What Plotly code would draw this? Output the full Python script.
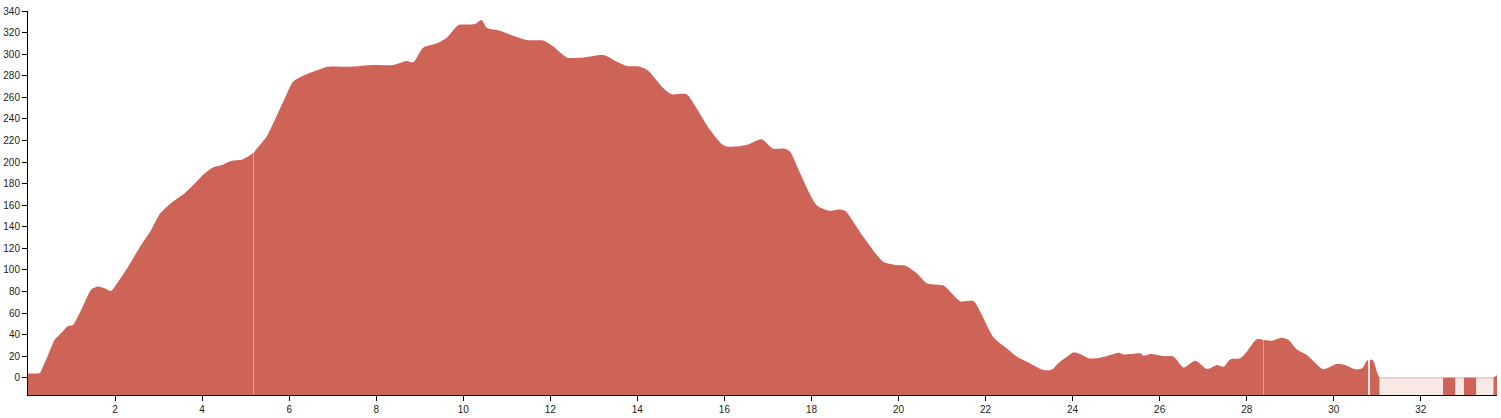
import plotly.graph_objects as go

# ---------------- data ----------------
distance_km = [
    0.00, 0.27, 0.34, 0.45, 0.61, 0.73, 0.92, 1.03, 1.15, 1.26, 1.46, 1.61, 1.76, 1.91, 2.07,
    2.30, 2.60, 2.83, 3.03, 3.29, 3.60, 3.83, 4.06, 4.25, 4.44, 4.67, 4.90, 5.06, 5.18,
    5.18, 5.28, 5.48, 5.67, 5.90, 6.09, 6.36, 6.66, 6.89, 7.40, 7.94, 8.40, 8.70, 8.85, 9.08,
    9.39, 9.62, 9.89, 10.08, 10.27, 10.42, 10.54, 10.85, 11.15, 11.46, 11.84, 12.07, 12.38,
    12.76, 13.22, 13.53, 13.76, 14.06, 14.25, 14.60, 14.79, 15.13, 15.36, 15.67, 16.01, 16.51,
    16.86, 17.12, 17.39, 17.51, 17.74, 18.12, 18.43, 18.62, 18.77, 19.19, 19.65, 19.96, 20.15,
    20.42, 20.65, 20.95, 21.04, 21.42, 21.73, 21.88, 22.19, 22.49, 22.72, 22.95, 23.33, 23.53,
    23.68, 23.87, 24.02, 24.18, 24.37, 24.64, 24.87, 25.06, 25.17, 25.56, 25.63, 25.79, 26.09,
    26.32, 26.55, 26.82, 27.09, 27.32, 27.47, 27.62, 27.85, 28.00, 28.23, 28.39,
    28.39, 28.58, 28.81, 28.96, 29.15, 29.38, 29.57, 29.76, 30.07, 30.26, 30.49, 30.65, 30.76, 30.81,
    30.81, 30.84, 30.91, 30.99, 31.05,
    32.51, 32.79,
    32.99, 33.27,
    33.67, 33.75,
]
elevation_m = [
    4, 4.5, 10, 20, 35, 40, 48, 49, 57, 66, 82, 84.5, 83, 80.5, 89,
    103, 123, 137, 152, 162, 171, 180, 189.5, 195, 197, 201, 202, 205, 208.5,
    208.5, 213.6, 223.5, 239, 259, 274.5, 280.7, 285.3, 288.4, 288.4, 290, 290, 293.6, 292.4, 306,
    310, 315.3, 327, 327.5, 328, 331.7, 324.5, 321.7, 317, 313, 312.6, 307, 297,
    297, 299.2, 293, 289, 288.4, 284.7, 268.3, 262.8, 262.8, 249.8, 229.7, 214.8, 215.8,
    221, 212.3, 212.3, 209.5, 189.5, 160, 154.8, 156, 154.8, 130.7, 107.6, 104.5, 104,
    96.8, 87.5, 86, 85.4, 71, 71, 61, 37, 27, 19.5, 14.8, 7.1, 7.7,
    13.9, 19.5, 23.5, 21.7, 18, 18.6, 21, 23.2, 21.6, 22.6, 20.4, 22, 20.1,
    19.5, 9.6, 15.8, 8.1, 11.8, 10.2, 17, 18, 24.1, 35.6, 35,
    35, 34.4, 37.1, 35, 26.3, 21, 13.9, 7.8, 12.7, 11.8, 7.8, 8.7, 15.8, 16.5,
    16.5, 17, 15.8, 5.6, 0,
    0, 0,
    0, 0,
    0, 2.5,
]
# recorded blocks inside the missing stretch start at these distances
block_starts_km = [32.51, 32.99, 33.67]
missing_range_km = [31.05, 33.75]
missing_level_m = [0, 0]

x_ticks = list(range(2, 33, 2))
y_ticks = list(range(0, 341, 20))
x_range = [0, 33.75]
y_range = [-16, 340]

FILL = "#CE6358"

# ---------------- split into segments ----------------
segments = []
for i, (x, y) in enumerate(zip(distance_km, elevation_m)):
    new = i == 0 or x == distance_km[i - 1] or x in block_starts_km
    if new:
        segments.append(([], []))
    segments[-1][0].append(x)
    segments[-1][1].append(y)

# ---------------- figure ----------------
fig = go.Figure()

# missing-data band (light)
fig.add_trace(go.Scatter(
    x=missing_range_km, y=[y_range[0]] * 2, mode="lines",
    line=dict(width=0, color="rgba(0,0,0,0)"), hoverinfo="skip", showlegend=False,
))
fig.add_trace(go.Scatter(
    x=missing_range_km, y=missing_level_m, mode="lines", fill="tonexty",
    fillcolor="rgba(206,99,88,0.14)",
    line=dict(color="rgba(206,99,88,0.45)", width=1),
    hoverinfo="skip", showlegend=False,
))

# visual gap between touching segments (in km)
gaps_after = [0.003, 0.003, 0.02, 0, 0, 0, 0]
for k, (xs, ys) in enumerate(segments):
    xs = list(xs)
    if k > 0 and segments[k - 1][0][-1] == xs[0]:
        xs[0] += gaps_after[k - 1]
    if k + 1 < len(segments) and segments[k + 1][0][0] == xs[-1]:
        xs[-1] -= gaps_after[k]
    fig.add_trace(go.Scatter(
        x=xs, y=[y_range[0]] * len(xs), mode="lines",
        line=dict(width=0, color="rgba(0,0,0,0)"), hoverinfo="skip", showlegend=False,
    ))
    fig.add_trace(go.Scatter(
        x=xs, y=list(ys), mode="lines", fill="tonexty", fillcolor=FILL,
        line=dict(width=0, color="rgba(0,0,0,0)", shape="spline", smoothing=0.7),
        hoverinfo="skip", showlegend=False,
    ))

axis_font = dict(family="Liberation Sans, Arial, sans-serif", size=10, color="#222")
fig.update_layout(
    width=1501, height=418,
    margin=dict(l=28, r=4, t=11, b=23),
    paper_bgcolor="white", plot_bgcolor="white",
    showlegend=False,
    xaxis=dict(
        range=x_range, tickvals=x_ticks, ticktext=[str(v) for v in x_ticks],
        showgrid=False, zeroline=False, showline=True, linecolor="black", linewidth=1,
        ticks="outside", ticklen=5, tickcolor="black", tickfont=axis_font,
    ),
    yaxis=dict(
        range=y_range, tickvals=y_ticks, ticktext=[str(v) for v in y_ticks],
        showgrid=False, zeroline=False, showline=True, linecolor="black", linewidth=1,
        ticks="outside", ticklen=5, tickcolor="black", tickfont=axis_font,
    ),
)

fig.write_html(
    "out.html",
    config={"displayModeBar": False},
    post_script="document.body.style.margin='0';document.body.style.overflow='hidden';",
)
